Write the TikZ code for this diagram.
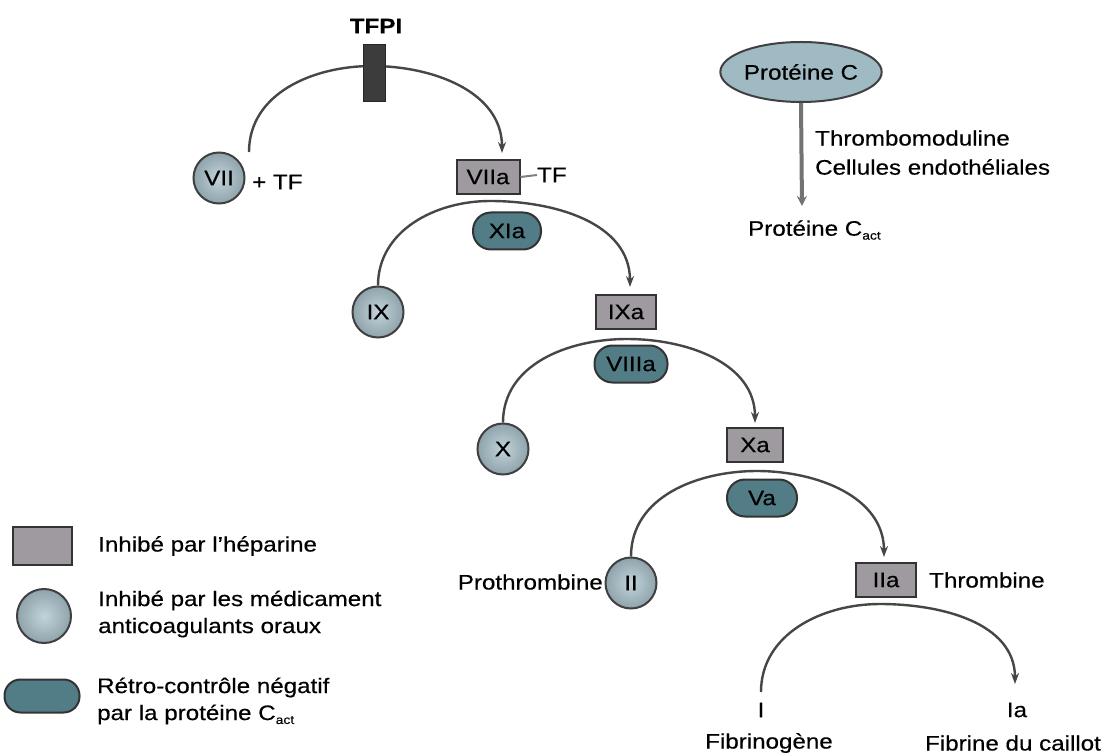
\documentclass[tikz,border=0pt]{standalone}
\usepackage{fontspec}
\setmainfont{Liberation Sans}[FakeStretch=1.15,FakeBold=0.4]
\usetikzlibrary{arrows.meta,shapes.geometric}
\definecolor{rectgray}{RGB}{158,154,160}
\definecolor{circblue}{RGB}{168,192,202}
\definecolor{pillteal}{RGB}{82,124,134}
\definecolor{protc}{RGB}{160,186,195}
\definecolor{bargray}{RGB}{60,60,60}
\definecolor{arcgray}{RGB}{70,70,70}
\newcommand{\Cact}{C\raisebox{-0.35ex}{\fontsize{12}{12}\selectfont act}}
\begin{document}
\begin{tikzpicture}[x=1pt,y=-1pt,
 every node/.style={font=\fontsize{21}{27}\selectfont, inner sep=0pt},
 fac/.style={draw=black!80, line width=2pt, fill=rectgray, minimum width=60pt, minimum height=34pt},
 zym/.style={circle, draw=black!75, line width=2pt, inner color=circblue!70!white, outer color=circblue!85!black, minimum size=51pt},
 cof/.style={draw=black!80, line width=2pt, fill=pillteal, rounded corners=18pt, minimum width=70pt, minimum height=37pt},
 casc/.style={draw=arcgray, line width=2.4pt},
 tip/.style={-{Stealth[length=11pt,width=8pt]}},
 lbl/.style={anchor=west, align=left},
]
\useasboundingbox (0,0) rectangle (1104,754);
\fill[white] (0,0) rectangle (1104,754);

% cascade nodes
\node[font=\bfseries\fontsize{21}{27}\selectfont] (tfpi) at (376,26) {TFPI};
\node[zym] (VII) at (219,178) {VII};
\node[lbl] (tf1) at (252,182) {+ TF};
\node[fac, minimum width=63pt] (VIIa) at (488,177) {VIIa};
\node[lbl] (tf2) at (537,175) {TF};
\draw[gray, line width=2pt] (VIIa.east) -- (tf2.west);
\node[cof, minimum width=68pt] (XIa) at (507,231) {XIa};
\node[zym] (IX) at (378,312) {IX};
\node[fac] (IXa) at (626,312) {IXa};
\node[cof, minimum width=73pt] (VIIIa) at (631,364) {VIIIa};
\node[zym] (X) at (503,449) {X};
\node[fac, minimum width=56pt] (Xa) at (755,445) {Xa};
\node[cof] (Va) at (762,498) {Va};
\node[zym] (II) at (631,583) {II};
\node[anchor=east] (proth) at (603,582) {Prothrombine};
\node[fac] (IIa) at (886,580) {IIa};
\node[lbl] (thromb) at (929,580) {Thrombine};
\node (I) at (761,710) {I};
\node (fibg) at (769,743) {Fibrinogène};
\node (Ia) at (1017,710) {Ia};
\node (fib) at (1013,743) {Fibrine du caillot};

% arcs
\coordinate (a1s) at (249,152); \coordinate (a1p) at (372,66); \coordinate (a1e) at (502,153);
\draw[casc,tip] (a1s) to[out=90,in=180] (a1p) to[out=0,in=90] (a1e);
\coordinate (a2p) at (490,201); \coordinate (a2e) at (630,287);
\draw[casc,tip] (IX.north) to[out=90,in=180] (a2p) to[out=0,in=90] (a2e);
\coordinate (a3p) at (627,339); \coordinate (a3e) at (755,423);
\draw[casc,tip] (X.north) to[out=90,in=180] (a3p) to[out=0,in=90] (a3e);
\coordinate (a4p) at (757,471); \coordinate (a4e) at (884,557);
\draw[casc,tip] (II.north) to[out=90,in=180] (a4p) to[out=0,in=90] (a4e);
\coordinate (a5s) at (761,692); \coordinate (a5p) at (880,604); \coordinate (a5e) at (1015,684);
\draw[casc,tip] (a5s) to[out=90,in=180] (a5p) to[out=0,in=90] (a5e);

% TFPI bar
\node[draw=black!85, fill=bargray, minimum width=22pt, minimum height=57pt] (bar) at (374,73) {};

% protein C
\node[ellipse, draw=black!75, line width=2pt, fill=protc, minimum width=142pt, minimum height=60pt] (pc) at (801,72) {Protéine C};
\node[lbl] (pcact) at (748,230) {Protéine \Cact};
\coordinate (pce) at (802,206);
\draw[draw=black!55, line width=4pt, -{Stealth[length=10pt,width=10pt]}] (pc.south) -- (pce);
\node[lbl] (thm) at (815,138) {Thrombomoduline};
\node[lbl] (cel) at (815,167) {Cellules endothéliales};

% legend
\node[fac, minimum width=59pt, minimum height=38pt] (leg1) at (42,546) {};
\node[lbl] (legt1) at (98,546) {Inhibé par l'héparine};
\node[zym, minimum size=54pt] (leg2) at (44,616) {};
\node[lbl] (legt2) at (98,614) {Inhibé par les médicament\\anticoagulants oraux};
\node[cof, minimum width=75pt, minimum height=33pt, rounded corners=16pt] (leg3) at (42,696) {};
\node[lbl] (legt3) at (97,701) {Rétro-contrôle négatif\\par la protéine \Cact};
\end{tikzpicture}
\end{document}
